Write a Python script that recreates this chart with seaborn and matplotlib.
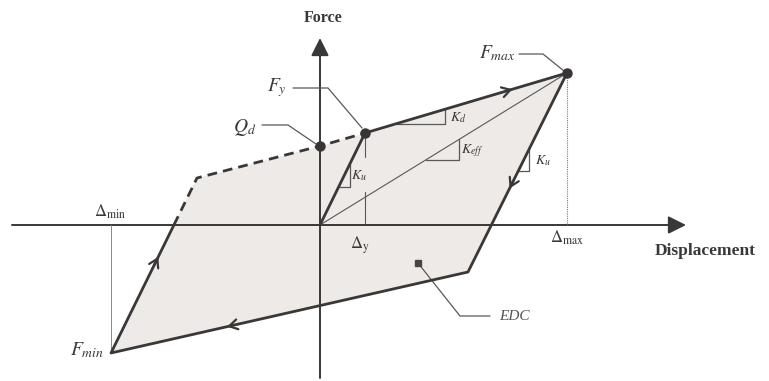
import numpy as np
import pandas as pd
import matplotlib
matplotlib.use("Agg")
import matplotlib.pyplot as plt
import seaborn as sns

# ---- data: key points of the bilinear hysteresis loop (displacement, force) ----
point_names = ["upper_left", "Qd", "Fy", "Fmax", "lower_right", "Fmin"]
loop_disp = [-12.3, 0.0, 4.5, 24.7, 14.8, -20.9]
loop_force = [4.7, 7.9, 9.2, 15.2, -4.7, -12.8]
origin_disp = 0.0
origin_force = 0.0

sns.set_theme(style="white")
plt.rcParams["font.family"] = ["Liberation Serif", "DejaVu Serif"]
plt.rcParams["mathtext.fontset"] = "stix"

LINE = "#3a3737"
THIN = "#5a5757"
FILL = "#eeeae8"

P = {n: np.array([x, y]) for n, x, y in zip(point_names, loop_disp, loop_force)}
O = np.array([origin_disp, origin_force])

fig = plt.figure(figsize=(7.69, 3.81), dpi=100)
ax = fig.add_axes([0, 0, 1, 1])
ax.set_xlim(-32, 44.9)
ax.set_ylim(-15.6, 22.5)
ax.set_axis_off()


def seg_df(names_or_pts):
    pts = [P[n] if isinstance(n, str) else n for n in names_or_pts]
    return pd.DataFrame({"d": [p[0] for p in pts], "f": [p[1] for p in pts],
                         "o": range(len(pts))})


# energy dissipated per cycle area
ax.fill(loop_disp, loop_force, color=FILL, zorder=0, lw=0)

# axes with arrows
ax.annotate("", xy=(36.6, 0), xytext=(-30.8, 0),
            arrowprops=dict(arrowstyle="-|>,head_length=0.9,head_width=0.45",
                            color=LINE, lw=1.4, shrinkA=0, shrinkB=0), zorder=1)
ax.annotate("", xy=(0, 18.7), xytext=(0, -15.3),
            arrowprops=dict(arrowstyle="-|>,head_length=0.9,head_width=0.45",
                            color=LINE, lw=1.4, shrinkA=0, shrinkB=0), zorder=1)

# crossing of the reloading branch with the displacement axis
fmin, ul = P["Fmin"], P["upper_left"]
tc = (0 - fmin[1]) / (ul[1] - fmin[1])
cross = fmin + tc * (ul - fmin)

# thick solid branches
for pts in [[O, "Fy"], ["Fy", "Fmax", "lower_right", "Fmin", cross]]:
    df = seg_df(pts)
    sns.lineplot(data=df, x="d", y="f", sort=False, estimator=None, ax=ax,
                 color=LINE, lw=2.0, solid_capstyle="round", zorder=3)
# dashed branches
for pts in [[cross, "upper_left", "Qd", "Fy"]]:
    df = seg_df(pts)
    sns.lineplot(data=df, x="d", y="f", sort=False, estimator=None, ax=ax,
                 color=LINE, lw=2.0, dashes=False, linestyle=(0, (3.5, 2.2)), zorder=3)

# effective stiffness line
sns.lineplot(data=seg_df([O, "Fmax"]), x="d", y="f", sort=False, estimator=None,
             ax=ax, color=THIN, lw=0.8, zorder=2)

# reference verticals
ax.plot([P["Fmax"][0]] * 2, [P["Fmax"][1], 0], color="#777", lw=0.8, ls=(0, (1, 1)), zorder=1)
ax.plot([P["Fmin"][0]] * 2, [0, P["Fmin"][1]], color="#888", lw=0.7, zorder=1)
ax.plot([P["Fy"][0]] * 2, [3.3, 0.2], color=THIN, lw=0.8, zorder=1)
ax.plot([P["Fy"][0]] * 2, [8.7, 6.8], color=THIN, lw=0.8, zorder=1)

# direction arrows on the loop
def arrow_on(a, b, t, back=0.06):
    a, b = np.asarray(a, float), np.asarray(b, float)
    pos = a + t * (b - a)
    start = pos - back * (b - a)
    ax.annotate("", xy=pos, xytext=start,
                arrowprops=dict(arrowstyle="->,head_length=0.5,head_width=0.3",
                                color=LINE, lw=1.6, shrinkA=0, shrinkB=0), zorder=4)

arrow_on(P["Fy"], P["Fmax"], 0.73, 0.02)
arrow_on(P["Fmax"], P["lower_right"], 0.58, 0.04)
arrow_on(P["lower_right"], P["Fmin"], 0.675, 0.015)
arrow_on(P["Fmin"], P["upper_left"], 0.55, 0.05)

# slope triangles
def slope_tri(a, b, y_h, x_v):
    a, b = np.asarray(a, float), np.asarray(b, float)
    s = (b[1] - a[1]) / (b[0] - a[0])
    x0 = a[0] + (y_h - a[1]) / s
    y1 = a[1] + s * (x_v - a[0])
    ax.plot([x0, x_v, x_v], [y_h, y_h, y1], color=THIN, lw=0.9, zorder=2)

slope_tri(P["Fy"], P["Fmax"], 10.15, 12.5)
slope_tri(O, P["Fmax"], 6.5, 13.9)
slope_tri(O, P["Fy"], 3.8, 3.0)
slope_tri(P["Fmax"], P["lower_right"], 5.4, 20.9)

# points
for n in ["Qd", "Fy", "Fmax"]:
    ax.plot(*P[n], "o", color="#3a3535", ms=6.5, zorder=5)
ax.plot(9.8, -3.8, "s", color="#4a4545", ms=4.5, zorder=5)

# leader lines
lead_kw = dict(color=THIN, lw=0.9, zorder=2)
ax.plot([-2.7, 0.8, 4.2], [13.7, 13.7, 9.7], **lead_kw)
ax.plot([-5.8, -3.2, -0.4], [10.0, 10.0, 8.1], **lead_kw)
ax.plot([19.9, 22.3, 24.4], [17.1, 17.1, 15.4], **lead_kw)
ax.plot([9.8, 14.0, 17.0], [-3.8, -9.1, -9.1], **lead_kw)

TXT = "#3a3737"
ax.text(0.3, 20.7, "Force", ha="center", va="center", fontsize=11.5,
        fontweight="bold", color=TXT)
ax.text(38.5, -2.6, "Displacement", ha="center", va="center", fontsize=12.5,
        fontweight="bold", color=TXT)
ax.text(-4.3, 13.7, r"$F_y$", ha="center", va="center", fontsize=14, color=TXT)
ax.text(-7.5, 9.8, r"$Q_d$", ha="center", va="center", fontsize=14, color=TXT)
ax.text(17.7, 17.2, r"$F_{max}$", ha="center", va="center", fontsize=14, color=TXT)
ax.text(-23.3, -12.5, r"$F_{min}$", ha="center", va="center", fontsize=14, color=TXT)
ax.text(19.4, -9.1, "EDC", ha="center", va="center", fontsize=11,
        style="italic", color="#555")
ax.text(-21.0, 1.3, r"$\mathit{\Delta}_{\rm min}$", ha="center", va="center",
        fontsize=12, color=TXT)
ax.text(24.7, -1.3, r"$\mathit{\Delta}_{\rm max}$", ha="center", va="center",
        fontsize=12, color=TXT)
ax.text(4.0, -2.0, r"$\mathit{\Delta}_{\rm y}$", ha="center", va="center",
        fontsize=12, color=TXT)
ax.text(13.8, 10.7, r"$K_d$", ha="center", va="center", fontsize=10, color=TXT)
ax.text(15.2, 7.4, r"$K_{eff}$", ha="center", va="center", fontsize=10, color=TXT)
ax.text(3.9, 4.9, r"$K_u$", ha="center", va="center", fontsize=10, color=TXT)
ax.text(22.3, 6.4, r"$K_u$", ha="center", va="center", fontsize=10, color=TXT)

fig.savefig("out.png", dpi=100, facecolor="white")
